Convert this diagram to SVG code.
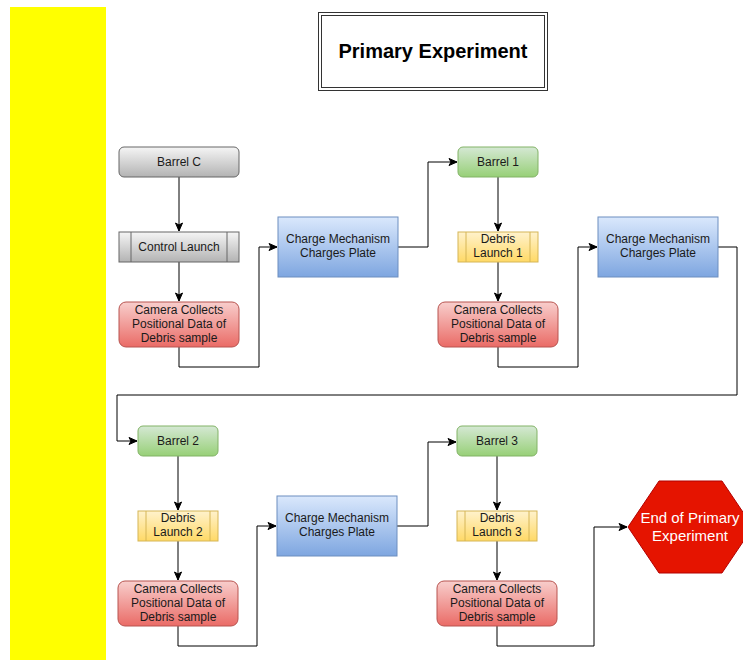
<svg xmlns="http://www.w3.org/2000/svg" width="743" height="660" viewBox="0 0 743 660">
<defs>
<linearGradient id="gGray" x1="0" y1="0" x2="0" y2="1"><stop offset="0" stop-color="#f5f5f5"/><stop offset="1" stop-color="#b3b3b3"/></linearGradient>
<linearGradient id="gGreen" x1="0" y1="0" x2="0" y2="1"><stop offset="0" stop-color="#d5e8d4"/><stop offset="1" stop-color="#97d077"/></linearGradient>
<linearGradient id="gYellow" x1="0" y1="0" x2="0" y2="1"><stop offset="0" stop-color="#fff2cc"/><stop offset="1" stop-color="#ffd966"/></linearGradient>
<linearGradient id="gRed" x1="0" y1="0" x2="0" y2="1"><stop offset="0" stop-color="#f8cecc"/><stop offset="1" stop-color="#ea6b66"/></linearGradient>
<linearGradient id="gBlue" x1="0" y1="0" x2="0" y2="1"><stop offset="0" stop-color="#dae8fc"/><stop offset="1" stop-color="#7ea6e0"/></linearGradient>
<marker id="arr" markerUnits="userSpaceOnUse" markerWidth="10" markerHeight="10" viewBox="0 0 10 10" refX="9" refY="5" orient="auto">
<path d="M1,1.5 L9,5 L1,8.5 L3,5 z" fill="#000" stroke="#000" stroke-width="1"/>
</marker>
</defs>
<style>
text{font-family:"Liberation Sans",Arial,sans-serif;font-size:12px;fill:#1a1a1a;text-anchor:middle}
.gray{fill:url(#gGray);stroke:#666666}
.green{fill:url(#gGreen);stroke:#82b366}
.yellow{fill:url(#gYellow);stroke:#d6b656}
.red{fill:url(#gRed);stroke:#b85450}
.blue{fill:url(#gBlue);stroke:#6c8ebf}
.conn path{fill:none;stroke:#000;stroke-width:1;marker-end:url(#arr)}
.title{font-size:20px;font-weight:bold;fill:#000}
.end{font-size:15px;fill:#fff}
</style>
<rect x="10" y="7" width="96" height="653" fill="#ffff00"/>
<g id="title">
<rect x="318.5" y="12.5" width="229" height="78" fill="#fff" stroke="#333"/>
<rect x="321.5" y="15.5" width="223" height="72" fill="none" stroke="#333"/>
<text class="title" x="433" y="58">Primary Experiment</text>
</g>
<g class="conn" id="connectors">
<path d="M179,177 V231"/>
<path d="M179,262 V301"/>
<path d="M179,347 V367 H259 V247 H277"/>
<path d="M398,247 H428 V162 H457"/>
<path d="M498,177 V231"/>
<path d="M498,262 V301"/>
<path d="M498,347 V367 H578 V247 H597"/>
<path d="M718,247 H737 V395 H117 V441 H137"/>
<path d="M178,456 V510"/>
<path d="M178,541 V580"/>
<path d="M178,626 V646 H257 V526 H276"/>
<path d="M397,526 H428 V442 H456"/>
<path d="M497,456 V510"/>
<path d="M497,541 V580"/>
<path d="M497,626 V646 H594 V527 H627"/>
</g>
<g id="barrelC">
<rect class="gray" x="119" y="147" width="120" height="30" rx="5"/>
<text x="179" y="166">Barrel C</text>
</g>
<g id="controlLaunch">
<rect class="gray" x="119" y="232" width="120" height="30"/>
<line class="gray" x1="131" y1="232" x2="131" y2="262"/>
<line class="gray" x1="227" y1="232" x2="227" y2="262"/>
<text x="179" y="251">Control Launch</text>
</g>
<g id="camera0">
<rect class="red" x="119" y="302" width="120" height="45" rx="7"/>
<text x="179" y="314">Camera Collects</text>
<text x="179" y="328">Positional Data of</text>
<text x="179" y="342">Debris sample</text>
</g>
<g id="charge1">
<rect class="blue" x="278" y="217" width="120" height="60"/>
<text x="338" y="243">Charge Mechanism</text>
<text x="338" y="257">Charges Plate</text>
</g>
<g id="barrel1">
<rect class="green" x="458" y="147" width="80" height="30" rx="5"/>
<text x="498" y="166">Barrel 1</text>
</g>
<g id="debris1">
<rect class="yellow" x="458" y="232" width="80" height="30"/>
<line class="yellow" x1="466" y1="232" x2="466" y2="262"/>
<line class="yellow" x1="530" y1="232" x2="530" y2="262"/>
<text x="498" y="243">Debris</text>
<text x="498" y="257">Launch 1</text>
</g>
<g id="camera1">
<rect class="red" x="438" y="302" width="120" height="45" rx="7"/>
<text x="498" y="314">Camera Collects</text>
<text x="498" y="328">Positional Data of</text>
<text x="498" y="342">Debris sample</text>
</g>
<g id="charge2">
<rect class="blue" x="598" y="217" width="120" height="60"/>
<text x="658" y="243">Charge Mechanism</text>
<text x="658" y="257">Charges Plate</text>
</g>
<g id="barrel2">
<rect class="green" x="138" y="426" width="80" height="30" rx="5"/>
<text x="178" y="445">Barrel 2</text>
</g>
<g id="debris2">
<rect class="yellow" x="138" y="511" width="80" height="30"/>
<line class="yellow" x1="146" y1="511" x2="146" y2="541"/>
<line class="yellow" x1="210" y1="511" x2="210" y2="541"/>
<text x="178" y="522">Debris</text>
<text x="178" y="536">Launch 2</text>
</g>
<g id="camera2">
<rect class="red" x="118" y="581" width="120" height="45" rx="7"/>
<text x="178" y="593">Camera Collects</text>
<text x="178" y="607">Positional Data of</text>
<text x="178" y="621">Debris sample</text>
</g>
<g id="charge3">
<rect class="blue" x="277" y="496" width="120" height="60"/>
<text x="337" y="522">Charge Mechanism</text>
<text x="337" y="536">Charges Plate</text>
</g>
<g id="barrel3">
<rect class="green" x="457" y="426" width="80" height="30" rx="5"/>
<text x="497" y="445">Barrel 3</text>
</g>
<g id="debris3">
<rect class="yellow" x="457" y="511" width="80" height="30"/>
<line class="yellow" x1="465" y1="511" x2="465" y2="541"/>
<line class="yellow" x1="529" y1="511" x2="529" y2="541"/>
<text x="497" y="522">Debris</text>
<text x="497" y="536">Launch 3</text>
</g>
<g id="camera3">
<rect class="red" x="437" y="581" width="120" height="45" rx="7"/>
<text x="497" y="593">Camera Collects</text>
<text x="497" y="607">Positional Data of</text>
<text x="497" y="621">Debris sample</text>
</g>
<g id="end">
<polygon points="628,527 659,481 722,481 753,527 722,573 659,573" fill="#e51400" stroke="#b20000"/>
<text class="end" x="690" y="523">End of Primary</text>
<text class="end" x="690" y="541">Experiment</text>
</g>
</svg>
